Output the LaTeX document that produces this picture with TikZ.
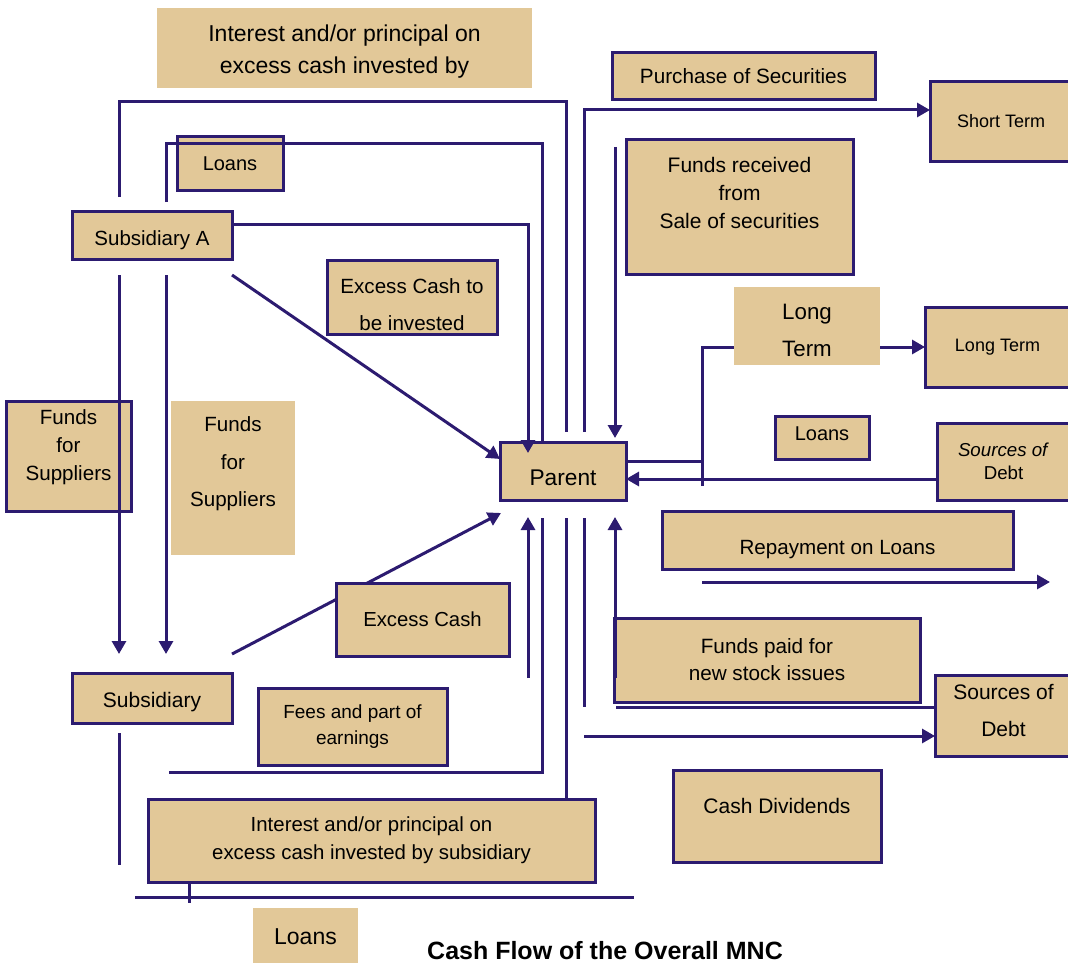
\documentclass[tikz,border=0pt]{standalone}
\usepackage{fontspec}
\setmainfont{Liberation Sans}
\usepackage{tikz}
\usetikzlibrary{arrows.meta,calc}
\definecolor{cfnavy}{RGB}{44,27,112}
\definecolor{cftan}{RGB}{226,200,152}
\pgfdeclarelayer{background}
\pgfsetlayers{background,main}
\tikzset{
	cf_node/.style = {align=center, inner sep=0pt, outer sep=0pt, text=black},
	cf_box/.style = {cf_node, rectangle, draw=cfnavy, fill=cftan,
		line width=3pt},% boite avec bord
	cf_tan/.style = {cf_node, rectangle, fill=cftan},% boite sans bord
	cf_flow/.style = {draw=cfnavy, line width=3pt},% flux
	fs/.style 2 args = {font=\fontsize{#1}{#2}\selectfont}
}

\begin{document}
\begin{tikzpicture}[x=1pt,y=-1pt,>={Triangle[length=13pt,width=14pt]}]
\useasboundingbox (0,0) rectangle (1068,963);
\node[cf_tan, minimum width=375pt, minimum height=80pt, fs={23}{32}] (topint) at (344.5,48) {\\[-9pt]Interest and/or principal on\\excess cash invested by};
\node[cf_box, minimum width=263pt, minimum height=47pt, fs={20.7}{25}] (purch) at (743.5,76.5) {Purchase of Securities};
\node[cf_box, minimum width=142pt, minimum height=79pt, fs={18}{22}] (shortt) at (1001,121.5) {Short Term};
\node[cf_box, minimum width=106pt, minimum height=53pt, fs={20}{24}] (loansA) at (230,163.5) {Loans};
\node[cf_box, minimum width=160pt, minimum height=48pt, fs={20.5}{24}] (subA) at (152,235) {\\[1pt]Subsidiary A};
\node[cf_box, minimum width=227pt, minimum height=134pt, fs={21}{28}] (fundsrec) at (739.5,207) {Funds received\\from\\Sale of securities\\[0pt]};
\node[cf_box, minimum width=170pt, minimum height=74pt, fs={20.6}{37}] (excessto) at (412,297) {\\[-7pt]Excess Cash to\\be invested};
\node[cf_tan, minimum width=146pt, minimum height=78pt, fs={22.3}{37}] (longlbl) at (807,326) {\\[-13.7pt]Long\\Term};
\node[cf_box, minimum width=145pt, minimum height=80pt, fs={18}{22}] (longt) at (997.5,347) {Long Term};
\node[cf_box, minimum width=94pt, minimum height=43pt, fs={20}{24}] (loansR) at (822,437.5) {Loans\\[-16pt]};
\node[cf_box, minimum width=133pt, minimum height=77pt, fs={18.7}{23}] (srcdebt) at (1003.5,461.5) {\textit{Sources of}\\Debt};
\node[cf_box, minimum width=126pt, minimum height=58pt, fs={22.7}{27}] (parent) at (563,471) {\\[1.5pt]Parent};
\node[cf_box, minimum width=125pt, minimum height=110pt, fs={20.6}{28}] (fundsL) at (68.5,456) {Funds\\for\\Suppliers\\[-6pt]};
\node[cf_tan, minimum width=124pt, minimum height=154pt, fs={20.6}{37.5}] (fundsT) at (233,478) {Funds\\for\\Suppliers\\[-5.5pt]};
\node[cf_box, minimum width=351pt, minimum height=58pt, fs={20.6}{25}] (repay) at (837.5,540) {\\[8pt]Repayment on Loans};
\node[cf_box, minimum width=173pt, minimum height=73pt, fs={20.3}{25}] (excess) at (422.5,619.5) {Excess Cash};
\node[cf_box, minimum width=306pt, minimum height=84pt, fs={20.7}{27}] (fundspaid) at (767,660) {Funds paid for\\new stock issues};
\node[cf_box, minimum width=137pt, minimum height=81pt, fs={21}{37}] (srcdebt2) at (1003.5,715.5) {Sources of\\Debt\\[-27pt]};
\node[cf_box, minimum width=160pt, minimum height=50pt, fs={21}{25}] (subsid) at (152,698) {\\[-1.7pt]Subsidiary};
\node[cf_box, minimum width=189pt, minimum height=77pt, fs={19}{26}] (fees) at (352.5,726.5) {Fees and part of\\earnings};
\node[cf_box, minimum width=447pt, minimum height=83pt, fs={20.4}{28}] (intsub) at (371.5,840.5) {Interest and/or principal on\\excess cash invested by subsidiary};
\node[cf_box, minimum width=208pt, minimum height=92pt, fs={21}{25}] (divid) at (777,816) {Cash Dividends\\[-5pt]};
\node[cf_tan, minimum width=105pt, minimum height=58pt, fs={23}{27}] (loansB) at (305.5,937) {Loans};
\node[cf_node, fs={25}{30}, anchor=base] (title) at (605,959) {\bfseries Cash Flow of the Overall MNC};
\coordinate (ltjoin) at (702,486);
\coordinate (botL) at (135,897);
\coordinate (botR) at (634,897);
% lignes sous les boites
\begin{pgfonlayer}{background}
\draw[cf_flow,->] (ltjoin) |- (longt.west);
\draw[cf_flow,->] ([yshift=19pt]subsid.north east) -- ([xshift=1pt,yshift=-13pt]parent.south west);
\end{pgfonlayer}
% flux du haut
\draw[cf_flow,->] ([yshift=11pt]subA.east) -| ([xshift=-35pt,yshift=-11pt]parent.north);
\draw[cf_flow] ([xshift=14pt,yshift=9pt]subA.north) -- ++(0,-58) -| ([xshift=-21pt]parent.north);
\draw[cf_flow] ([xshift=-33pt,yshift=14pt]subA.north) -- ++(0,-95) -| ([xshift=3pt,yshift=10pt]parent.north);
\draw[cf_flow,->] ([xshift=21pt,yshift=10pt]parent.north) |- ([yshift=11.5pt]shortt.west);
\draw[cf_flow,->] ([xshift=-11pt,yshift=-7pt]fundsrec.north west) -- ([xshift=-11pt,yshift=4pt]parent.north east);
\draw[cf_flow,->] ([yshift=-16pt]subA.south east) -- ([yshift=12pt]parent.west);
\draw[cf_flow,->] ([xshift=-33pt,yshift=-16pt]subA.south) -- ([xshift=-33pt,yshift=19pt]subsid.north);
\draw[cf_flow,->] ([xshift=14pt,yshift=-16pt]subA.south) -- ([xshift=14pt,yshift=19pt]subsid.north);
% flux de droite
\draw[cf_flow] ([yshift=10pt]parent.east) -- ++(76,0);
\draw[cf_flow,->] ([yshift=-17.5pt]srcdebt.west) -- ([yshift=-8pt]parent.east);
\draw[cf_flow,->] ($(repay.south west)+(40,13)$) -- ++(348,0);
% flux du bas
\draw[cf_flow,->] ([xshift=-35pt,yshift=-178pt]parent.south) -- ([xshift=-35pt,yshift=-17pt]parent.south);
\draw[cf_flow] ([xshift=-21pt,yshift=-18pt]parent.south) |- ([xshift=17pt,yshift=-49pt]subsid.south);
\draw[cf_flow] ([xshift=-29pt]intsub.north east) -- ([xshift=3pt,yshift=-18pt]parent.south);
\draw[cf_flow] ([xshift=21pt,yshift=-18pt]parent.south) -- ++(0,189);
\draw[cf_flow,->] ($(srcdebt2.west)+(-351,20.5)$) -- ([yshift=-20.5pt]srcdebt2.west);
\draw[cf_flow,->] ([xshift=1pt,yshift=-18pt]fundspaid.west) -- ([xshift=-11pt,yshift=-17pt]parent.south east);
\draw[cf_flow] ([xshift=2pt,yshift=-5pt]fundspaid.south west) -- ++(319,0);
\draw[cf_flow] ([xshift=-33pt,yshift=-10pt]subsid.south) -- ++(0,132);
\draw[cf_flow] ([xshift=41pt]intsub.south west) -- ++(0,21);
\draw[cf_flow] (botL) -- (botR);
\end{tikzpicture}
\end{document}
